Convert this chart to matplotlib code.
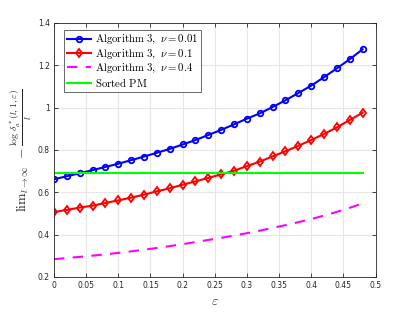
import matplotlib
matplotlib.use("Agg")
import matplotlib.pyplot as plt
import numpy as np

plt.rcParams['mathtext.fontset'] = 'cm'

eps = [0.00, 0.02, 0.04, 0.06, 0.08, 0.10, 0.12, 0.14, 0.16, 0.18, 0.20, 0.22, 0.24,
       0.26, 0.28, 0.30, 0.32, 0.34, 0.36, 0.38, 0.40, 0.42, 0.44, 0.46, 0.48]
alg_nu001 = [0.662, 0.676, 0.690, 0.705, 0.720, 0.735, 0.752, 0.769, 0.787, 0.805, 0.826, 0.847, 0.871,
             0.895, 0.921, 0.948, 0.973, 1.003, 1.035, 1.069, 1.104, 1.144, 1.186, 1.229, 1.276]
alg_nu01 = [0.507, 0.517, 0.528, 0.537, 0.550, 0.562, 0.575, 0.589, 0.605, 0.619, 0.636, 0.652, 0.668,
            0.685, 0.702, 0.724, 0.745, 0.770, 0.794, 0.820, 0.847, 0.876, 0.907, 0.942, 0.976]
alg_nu04 = [0.284, 0.290, 0.295, 0.301, 0.307, 0.314, 0.321, 0.329, 0.337, 0.346, 0.355, 0.365, 0.375,
            0.385, 0.396, 0.407, 0.419, 0.432, 0.445, 0.459, 0.474, 0.490, 0.508, 0.527, 0.548]
sorted_pm = [0.6931] * len(eps)

labels = [r'$\mathrm{Algorithm\ 3,}\ \nu = 0.01$', r'$\mathrm{Algorithm\ 3,}\ \nu = 0.1$',
          r'$\mathrm{Algorithm\ 3,}\ \nu = 0.4$', r'$\mathrm{Sorted\ PM}$']
xticks = [0, 0.05, 0.1, 0.15, 0.2, 0.25, 0.3, 0.35, 0.4, 0.45, 0.5]
xticklabels = ['0', '0.05', '0.1', '0.15', '0.2', '0.25', '0.3', '0.35', '0.4', '0.45', '0.5']
yticks = [0.2, 0.4, 0.6, 0.8, 1.0, 1.2, 1.4]
yticklabels = ['0.2', '0.4', '0.6', '0.8', '1', '1.2', '1.4']

fig = plt.figure(figsize=(4.15, 3.12), dpi=100)
ax = fig.add_axes([54/415, 1-277/312, (375.5-54)/415, (277-23)/312])

ax.plot(eps, alg_nu001, color='#0000ff', lw=1.5, marker='o', ms=4, mfc='none', mew=1.3, label=labels[0])
ax.plot(eps, alg_nu01, color='#ff0000', lw=1.5, marker='d', ms=4.5, mfc='none', mew=1.3, label=labels[1])
ax.plot(eps, alg_nu04, color='#ff00ff', lw=1.5, ls=(0, (5, 4)), label=labels[2])
ax.plot(eps, sorted_pm, color='#00ff00', lw=1.5, label=labels[3])

ax.set_xlim(0, 0.5)
ax.set_ylim(0.2, 1.4)
ax.set_xticks(xticks)
ax.set_xticklabels(xticklabels)
ax.set_yticks(yticks)
ax.set_yticklabels(yticklabels)
ax.tick_params(direction='in', length=3, width=0.6, labelsize=5.5, colors='#262626',
               top=True, right=True, pad=3)
ax.grid(True, color='#e6e6e6', lw=0.8)
ax.set_axisbelow(True)
for s in ax.spines.values():
    s.set_color('#262626')
    s.set_linewidth(0.6)

ax.set_xlabel(r'$\varepsilon$', fontsize=10, color='#262626', labelpad=3)
ax.set_ylabel(r'$\mathrm{lim}_{l\to\infty}\ -\frac{\log\,\delta_a^*(l,1,\varepsilon)}{l}$', fontsize=10,
              color='#262626', labelpad=3)

leg = ax.legend(loc='upper left', bbox_to_anchor=(0.03, 0.973), fontsize=7.8, frameon=True,
                fancybox=False, edgecolor='#262626', handlelength=2.2, handletextpad=0.4,
                borderpad=0.3, labelspacing=0.08, borderaxespad=0)
leg.get_frame().set_linewidth(0.6)

fig.savefig('out.png', dpi=100)
